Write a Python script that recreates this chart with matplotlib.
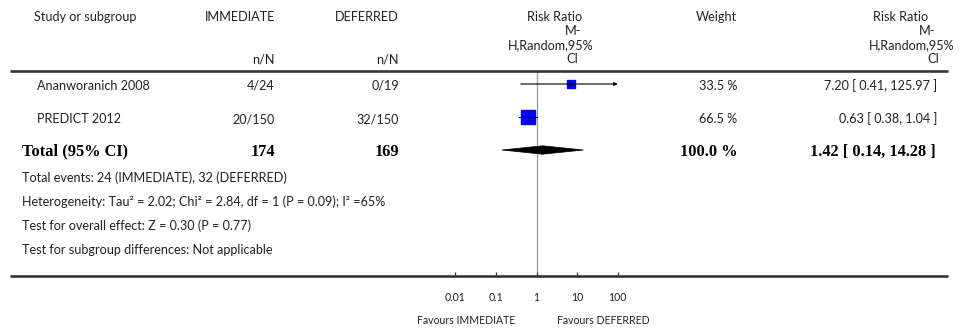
import matplotlib
matplotlib.use("Agg")
import matplotlib.pyplot as plt
from matplotlib.patches import Polygon
from matplotlib.lines import Line2D
from matplotlib.transforms import blended_transform_factory

# ---- data -------------------------------------------------------------
studies = ["Ananworanich 2008", "PREDICT 2012"]
immediate_events = ["4/24", "20/150"]
deferred_events = ["0/19", "32/150"]
risk_ratio = [7.20, 0.63]
ci_low = [0.41, 0.38]
ci_high = [125.97, 1.04]
weights = [33.5, 66.5]

total_immediate = 174
total_deferred = 169
total_weight = 100.0
pooled_rr = 1.42
pooled_low = 0.14
pooled_high = 14.28

axis_ticks = [0.01, 0.1, 1, 10, 100]
tick_labels = ["0.01", "0.1", "1", "10", "100"]

footnotes = [
    "Total events: 24 (IMMEDIATE), 32 (DEFERRED)",
    "Heterogeneity: Tau\u00b2 = 2.02; Chi\u00b2 = 2.84, df = 1 (P = 0.09); I\u00b2 =65%",
    "Test for overall effect: Z = 0.30 (P = 0.77)",
    "Test for subgroup differences: Not applicable",
]

# ---- layout (pixels) --------------------------------------------------
W, H, DPI = 964, 330, 100
SANS = "Lato"
SERIF = "Liberation Serif"
TXT = "#222222"
FS = 9.1
BFS = 11.8
SMALL = 7.6


def fx(px):
    return px / W


def fy(py):
    return 1 - py / H


fig = plt.figure(figsize=(W / DPI, H / DPI), dpi=DPI)
fig.patch.set_facecolor("white")

# forest-plot axes: log scale, 0.01..100 centred on 1
ax_left, ax_right = 435.0, 638.0
ax_top, ax_bottom = 71.0, 275.7
ax = fig.add_axes([fx(ax_left), fy(ax_bottom), fx(ax_right - ax_left),
                   (ax_bottom - ax_top) / H])
ax.set_xscale("log")
ax.set_xlim(10 ** -2.5, 10 ** 2.5)
row_px = 33.0
first_row = 84.0
ax.set_ylim((ax_bottom - first_row) / row_px, -(first_row - ax_top) / row_px)
for s in ax.spines.values():
    s.set_visible(False)
ax.set_facecolor("none")
ax.set_yticks([])
ax.set_xticks(axis_ticks)
ax.set_xticklabels(tick_labels)
ax.minorticks_off()
ax.tick_params(axis="x", direction="in", length=3.2, width=0.9, color="#333333",
               pad=12, labelsize=SMALL, labelcolor=TXT)
for lab in ax.get_xticklabels():
    lab.set_fontfamily(SANS)

# line of no effect
ax.axvline(1, color="#9a9a9a", lw=0.9, zorder=1)

# study rows
for i in range(len(studies)):
    side_px = 0.69 * weights[i] ** 0.7
    ax.plot(risk_ratio[i], i, marker="s", markersize=side_px * 72 / DPI,
            color="#0000ff", markeredgecolor="#0000ff", zorder=2)
    hi = min(ci_high[i], axis_ticks[-1])
    if ci_high[i] > axis_ticks[-1]:
        ax.annotate("", xy=(hi, i), xytext=(ci_low[i], i),
                    arrowprops=dict(arrowstyle="-|>", lw=0.8, color="black",
                                    mutation_scale=5, shrinkA=0, shrinkB=0),
                    zorder=3)
    else:
        ax.plot([ci_low[i], hi], [i, i], color="black", lw=0.8, zorder=3)
    ax.plot(risk_ratio[i], i, marker="|", markersize=3.5, color="black",
            markeredgewidth=0.8, zorder=3)

# pooled diamond
total_row = len(studies)
h = 4.2 / row_px
diamond = Polygon([(pooled_low, total_row), (pooled_rr, total_row - h),
                   (pooled_high, total_row), (pooled_rr, total_row + h)],
                  closed=True, facecolor="black", edgecolor="black", lw=0.5,
                  zorder=3)
ax.add_patch(diamond)

# ---- table text -------------------------------------------------------
tr = blended_transform_factory(fig.transFigure, ax.transData)
x_name, x_imm, x_def, x_wt, x_rr = 37, 275, 399, 737, 937
for i in range(len(studies)):
    y = i + 2.0 / row_px
    ax.text(fx(x_name), y, studies[i], transform=tr, ha="left", va="center",
            fontsize=FS, family=SANS, color=TXT)
    ax.text(fx(x_imm), y, immediate_events[i], transform=tr, ha="right",
            va="center", fontsize=FS, family=SANS, color=TXT)
    ax.text(fx(x_def), y, deferred_events[i], transform=tr, ha="right",
            va="center", fontsize=FS, family=SANS, color=TXT)
    ax.text(fx(x_wt), y, f"{weights[i]:.1f} %", transform=tr, ha="right",
            va="center", fontsize=FS, family=SANS, color=TXT)
    ax.text(fx(x_rr), y,
            f"{risk_ratio[i]:.2f} [ {ci_low[i]:.2f}, {ci_high[i]:.2f} ]",
            transform=tr, ha="right", va="center", fontsize=FS, family=SANS,
            color=TXT)

yt = total_row + 1.5 / row_px
bold = dict(transform=tr, va="center", fontsize=BFS, family=SERIF,
            fontweight="bold", color="black")
ax.text(fx(22), yt, "Total (95% CI)", ha="left", **bold)
ax.text(fx(x_imm), yt, f"{total_immediate}", ha="right", **bold)
ax.text(fx(x_def), yt, f"{total_deferred}", ha="right", **bold)
ax.text(fx(x_wt), yt, f"{total_weight:.1f} %", ha="right", **bold)
ax.text(fx(x_rr - 1), yt,
        f"{pooled_rr:.2f} [ {pooled_low:.2f}, {pooled_high:.2f} ]",
        ha="right", **bold)

for k, line in enumerate(footnotes):
    fig.text(fx(22), fy(178 + 24 * k), line, ha="left", va="center",
             fontsize=FS, family=SANS, color=TXT)

# ---- header -----------------------------------------------------------
hdr = dict(va="center", fontsize=FS, family=SANS, color=TXT)
line_y = [17, 31, 45, 59]
fig.text(fx(34), fy(line_y[0]), "Study or subgroup", ha="left", **hdr)
fig.text(fx(x_imm), fy(line_y[0]), "IMMEDIATE", ha="right", **hdr)
fig.text(fx(x_def), fy(line_y[0]), "DEFERRED", ha="right", **hdr)
fig.text(fx(x_imm), fy(line_y[3]), "n/N", ha="right", **hdr)
fig.text(fx(x_def), fy(line_y[3]), "n/N", ha="right", **hdr)
fig.text(fx(x_wt), fy(line_y[0]), "Weight", ha="right", **hdr)

# effect-size column headers, one line at a time
mid_lines = [("Risk Ratio", 555), ("M-", 573), ("H,Random,95%", 551),
             ("CI", 572)]
for (text, x), y in zip(mid_lines, line_y):
    fig.text(fx(x), fy(y), text, ha="center", **hdr)
right_lines = [("Risk Ratio", 928), ("M-", 935), ("H,Random,95%", 955),
               ("CI", 939)]
for (text, x), y in zip(right_lines, line_y):
    fig.text(fx(x), fy(y), text, ha="right", **hdr)

# rules above and below the table
fig.add_artist(Line2D([fx(10), fx(948)], [fy(71), fy(71)], color="#333333",
                      lw=1.9, solid_capstyle="butt"))
fig.add_artist(Line2D([fx(10), fx(948)], [fy(275.7), fy(275.7)],
                      color="#333333", lw=1.9, solid_capstyle="butt"))

# favours labels
fig.text(fx(515), fy(320), "Favours IMMEDIATE", ha="right", va="center",
         fontsize=SMALL, family=SANS, color=TXT)
fig.text(fx(557), fy(320), "Favours DEFERRED", ha="left", va="center",
         fontsize=SMALL, family=SANS, color=TXT)

fig.savefig("out.png", dpi=DPI, facecolor="white")
